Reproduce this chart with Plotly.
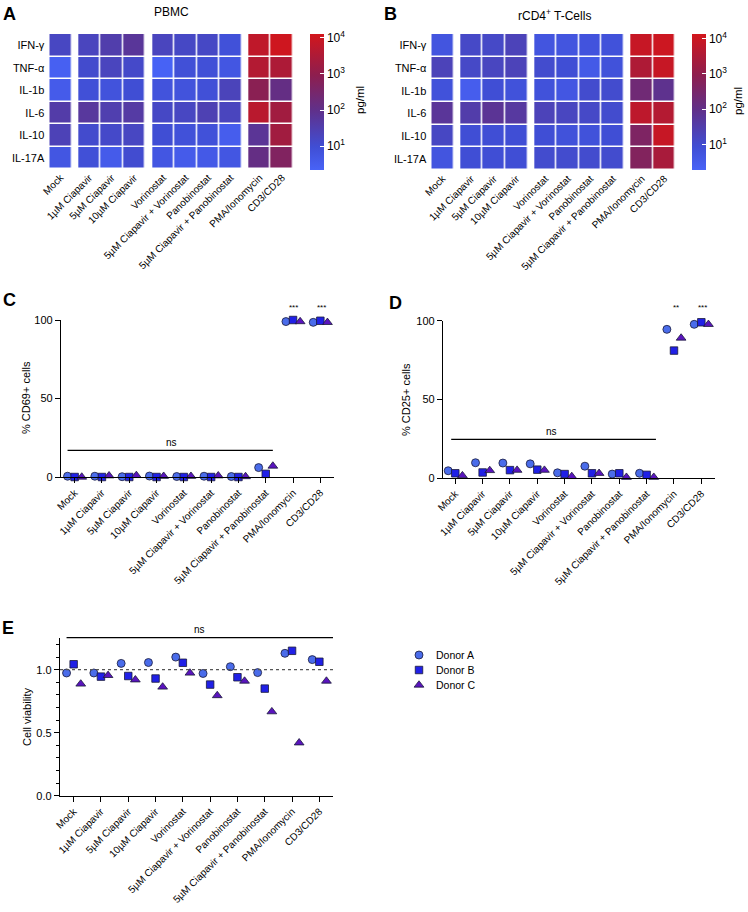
import plotly.graph_objects as go

# ---------------- data ----------------
categories = ["Mock", "1µM Ciapavir", "5µM Ciapavir", "10µM Ciapavir", "Vorinostat",
              "5µM Ciapavir + Vorinostat", "Panobinostat", "5µM Ciapavir + Panobinostat",
              "PMA/Ionomycin", "CD3/CD28"]
cytokines = ["IFN-γ", "TNF-α", "IL-1b", "IL-6", "IL-10", "IL-17A"]

# log10(pg/ml)
pbmc_log = [
    [1.25, 1.3, 1.55, 1.8, 1.3, 1.2, 1.2, 0.9, 3.8, 4.05],
    [0.45, 1.1, 1.3, 1.15, 0.4, 0.95, 0.95, 0.75, 3.6, 3.5],
    [0.6, 0.95, 0.85, 1.0, 0.85, 0.85, 0.95, 1.35, 2.9, 2.1],
    [1.6, 1.75, 1.5, 1.65, 1.2, 1.25, 1.45, 1.3, 3.7, 3.3],
    [1.4, 1.1, 1.15, 1.25, 1.0, 0.9, 0.9, 0.55, 1.85, 3.3],
    [0.75, 0.95, 0.6, 1.05, 0.75, 0.6, 0.65, 0.75, 2.1, 2.7],
]
cd4_log = [
    [0.7, 1.1, 1.1, 1.3, 0.7, 0.7, 0.75, 0.8, 3.9, 4.0],
    [1.3, 1.1, 1.2, 1.3, 1.0, 0.9, 0.55, 0.8, 3.5, 3.9],
    [0.8, 0.45, 0.9, 0.8, 0.8, 0.65, 1.0, 1.0, 2.3, 1.9],
    [1.75, 1.5, 1.8, 1.65, 1.3, 1.2, 1.1, 1.0, 3.75, 3.6],
    [1.15, 0.9, 0.9, 0.9, 0.9, 0.8, 0.8, 0.9, 2.6, 3.9],
    [0.7, 0.9, 0.9, 0.9, 1.0, 1.0, 1.0, 1.0, 2.7, 3.4],
]
cbar_ticks = [1, 2, 3, 4]
cbar_ticktext = ["10<sup>1</sup>", "10<sup>2</sup>", "10<sup>3</sup>", "10<sup>4</sup>"]

donors = ["Donor A", "Donor B", "Donor C"]
cd69 = [
    [0.5, 0.5, 0.2, 0.6, 0.3, 0.5, 0.3, 6.0, 99.0, 98.5],
    [0.0, 0.0, 0.0, 0.0, 0.0, 0.0, 0.0, 2.0, 100.0, 99.5],
    [0.0, 0.8, 1.0, 0.5, 0.5, 0.8, 0.3, 7.0, 99.0, 98.5],
]
cd25 = [
    [4.6, 9.7, 9.5, 9.0, 3.3, 7.5, 2.5, 3.0, 94.5, 97.7],
    [3.0, 3.5, 5.0, 5.3, 2.5, 3.0, 3.0, 2.0, 81.0, 99.0],
    [1.5, 4.8, 5.0, 5.0, 1.0, 3.0, 0.5, 0.5, 89.0, 97.7],
]
viability = [
    [0.974, 0.974, 1.05, 1.057, 1.10, 0.97, 1.024, 0.977, 1.13, 1.08],
    [1.043, 0.945, 0.95, 0.93, 1.055, 0.882, 0.94, 0.85, 1.15, 1.063],
    [0.887, 0.955, 0.92, 0.863, 0.974, 0.795, 0.91, 0.667, 0.42, 0.91],
]
sig_c = ["***", "***"]
sig_d = ["**", "***"]

# ---------------- style ----------------
FONT = "Liberation Sans, Arial, sans-serif"
W, H = 748, 912
donor_symbols = ["circle", "square", "triangle-up"]
donor_colors = ["#4a6cea", "#2020e6", "#5a14be"]
donor_sizes = [8, 7.5, 8.5]
colorscale = [
    [0.0, "rgb(72,99,247)"],
    [0.17, "rgb(64,78,212)"],
    [0.44, "rgb(96,48,138)"],
    [0.70, "rgb(142,30,78)"],
    [1.0, "rgb(210,22,28)"],
]

def px_x(p):
    return p / W

def px_y(p):
    return 1 - p / H

# heatmap column edges with gaps between treatment groups
groups = [1, 3, 4, 2]
gapw = 0.28
edges, centers, zcols = [-0.5], [], []
pos = -0.5
for gi, g in enumerate(groups):
    if gi > 0:
        pos += gapw
        edges.append(pos)
        zcols.append(None)
    for k in range(g):
        centers.append(pos + 0.5)
        pos += 1
        edges.append(pos)
        zcols.append(len(centers) - 1)
xmax_h = pos

def build_z(mat):
    return [[(row[c] if c is not None else None) for c in zcols] for row in mat]

fig = go.Figure()

def add_heat(mat, xa, ya, cax):
    fig.add_trace(go.Heatmap(
        z=build_z(mat), x=edges, y=cytokines, coloraxis=cax,
        xgap=1.5, ygap=1.5, xaxis=xa, yaxis=ya, hoverongaps=False))

add_heat(pbmc_log, "x", "y", "coloraxis")
add_heat(cd4_log, "x2", "y2", "coloraxis2")

def cbar(xleft, ycenter, cmin, cmax):
    return dict(
        colorscale=colorscale, cmin=cmin, cmax=cmax,
        colorbar=dict(
            x=px_x(xleft), xanchor="left", y=px_y(ycenter), yanchor="middle",
            thickness=14, len=136, lenmode="pixels", outlinewidth=0, xpad=0, ypad=0,
            tickvals=cbar_ticks, ticktext=cbar_ticktext,
            ticks="inside", ticklen=4, tickcolor="white",
            tickfont=dict(family=FONT, size=12, color="black"),
        ))

# scatter panels
def add_points(data, xa, ya):
    offs = [-0.26, 0.0, 0.26]
    for d in range(3):
        fig.add_trace(go.Scatter(
            x=[i + offs[d] for i in range(len(categories))], y=data[d],
            mode="markers", name=donors[d], showlegend=False,
            xaxis=xa, yaxis=ya, cliponaxis=False,
            marker=dict(symbol=donor_symbols[d], color=donor_colors[d], size=donor_sizes[d],
                        line=dict(color="#1b1b3a", width=0.8))))

add_points(cd69, "x3", "y3")
add_points(cd25, "x4", "y4")
add_points(viability, "x5", "y5")

# legend keys drawn on a small hidden axis (one row per donor)
for d in range(3):
    fig.add_trace(go.Scatter(
        x=[0], y=[d], mode="markers", name=donors[d], showlegend=False,
        xaxis="x6", yaxis="y6", cliponaxis=False, hoverinfo="skip",
        marker=dict(symbol=donor_symbols[d], color=donor_colors[d], size=donor_sizes[d],
                    line=dict(color="#1b1b3a", width=0.8))))

tickfont = dict(family=FONT, size=10, color="black")

def heat_axes(n, x0, x1, y0, y1):
    sfx = "" if n == 1 else str(n)
    fig.update_layout(**{
        "xaxis" + sfx: dict(domain=[px_x(x0), px_x(x1)], range=[-0.5, xmax_h], tickvals=centers,
                            ticktext=categories, tickangle=-45, showgrid=False, zeroline=False,
                            showline=False, ticks="", tickfont=tickfont, anchor="y" + sfx,
                            automargin=False),
        "yaxis" + sfx: dict(domain=[px_y(y1), px_y(y0)], autorange="reversed", showgrid=False,
                            zeroline=False, ticks="", tickfont=dict(family=FONT, size=11, color="black"),
                            anchor="x" + sfx, ticklabelstandoff=4, automargin=False),
    })

heat_axes(1, 49.3, 293.3, 34, 169)
heat_axes(2, 431.3, 675.7, 34, 170)

def dot_axes(n, x0, x1, y0, y1, yr, ytv, xr, minor=None):
    sfx = str(n)
    ya = dict(domain=[px_y(y1), px_y(y0)], range=yr, tickvals=ytv, showgrid=False, zeroline=False,
              showline=True, linecolor="black", linewidth=1.3, ticks="outside", ticklen=5,
              tickwidth=1.2, tickcolor="black", tickfont=dict(family=FONT, size=11, color="black"),
              anchor="x" + sfx, automargin=False)
    if minor:
        ya["minor"] = minor
    fig.update_layout(**{
        "xaxis" + sfx: dict(domain=[px_x(x0), px_x(x1)], range=xr, tickvals=list(range(len(categories))),
                            ticktext=categories, tickangle=-45, showgrid=False, zeroline=False,
                            showline=True, linecolor="black", linewidth=1.3, ticks="outside",
                            ticklen=5, tickwidth=1.2, tickcolor="black", tickfont=tickfont,
                            anchor="y" + sfx, automargin=False),
        "yaxis" + sfx: ya,
    })

dot_axes(3, 61, 334, 320, 477, [0, 100], [0, 50, 100], [-0.5, 9.5])
dot_axes(4, 443, 715, 320.7, 478, [0, 100], [0, 50, 100], [-0.45, 9.5])
dot_axes(5, 60, 333, 638.2, 795.7, [0, 1.25], [0.0, 0.5, 1.0], [-0.5, 9.5],
         minor=dict(dtick=0.1, ticks="outside", ticklen=3, tickcolor="black", showgrid=False))
fig.update_layout(yaxis5_tickformat=".1f")

hidden = dict(visible=False, showgrid=False, zeroline=False, automargin=False, fixedrange=True)
fig.update_layout(
    xaxis6=dict(domain=[px_x(409), px_x(429)], range=[-1, 1], anchor="y6", **hidden),
    yaxis6=dict(domain=[px_y(700), px_y(640)], range=[3, -1], anchor="x6", **hidden),
)

fig.update_layout(
    coloraxis=cbar(310, 101.5, 0.36, 4.11),
    coloraxis2=cbar(692.3, 102.5, 0.26, 4.11),
)

# shapes: ns lines and dotted reference line
shapes = [
    dict(type="line", xref="x3", yref="y3", x0=-0.26, x1=7.26, y0=17, y1=17, line=dict(color="black", width=1.3)),
    dict(type="line", xref="x4", yref="y4", x0=-0.15, x1=7.34, y0=24.6, y1=24.6, line=dict(color="black", width=1.3)),
    dict(type="line", xref="x5", yref="paper", x0=-0.26, x1=9.5, y0=px_y(637.7), y1=px_y(637.7), line=dict(color="black", width=1.3)),
    dict(type="line", xref="x5", yref="y5", x0=-0.5, x1=9.5, y0=1.0, y1=1.0, line=dict(color="#555555", width=1.3, dash="dot")),
]
fig.update_layout(shapes=shapes)

ann = []
def txt(x, y, t, size=10, bold=False, angle=0, xanchor="center", yanchor="middle"):
    ann.append(dict(x=px_x(x), y=px_y(y), xref="paper", yref="paper", text=("<b>%s</b>" % t) if bold else t,
                    showarrow=False, textangle=angle, xanchor=xanchor, yanchor=yanchor,
                    font=dict(family=FONT, size=size, color="black")))

txt(1, 14, "A", 18, True, xanchor="left")
txt(382, 14, "B", 18, True, xanchor="left")
txt(1, 300, "C", 18, True, xanchor="left")
txt(387, 303, "D", 18, True, xanchor="left")
txt(0, 628, "E", 18, True, xanchor="left")
txt(171, 12, "PBMC", 12)
txt(554, 15, "rCD4<sup>+</sup> T-Cells", 12)
txt(360, 100, "pg/ml", 11.5, angle=-90)
txt(738, 101, "pg/ml", 11.5, angle=-90)
txt(26, 398, "% CD69+ cells", 11, angle=-90)
txt(406, 399, "% CD25+ cells", 11, angle=-90)
txt(27, 717, "Cell viability", 11, angle=-90)
txt(171, 442, "ns", 10)
txt(551, 431, "ns", 10)
txt(199, 629, "ns", 10)
c_x = [293, 321]
d_x = [675.7, 702]
for i, s in enumerate(sig_c):
    txt(c_x[i], 307, s, 8)
for i, s in enumerate(sig_d):
    txt(d_x[i], 307, s, 8)
for d in range(3):
    txt(434, 655 + 15 * d, donors[d], 10.5, xanchor="left")
fig.update_layout(annotations=ann)

fig.update_layout(
    width=W, height=H, margin=dict(l=0, r=0, t=0, b=0, autoexpand=False),
    paper_bgcolor="white", plot_bgcolor="white",
    font=dict(family=FONT, size=10, color="black"),
    showlegend=False,
)

fig.write_html("out.html", config={"displayModeBar": False},
               post_script="document.body.style.margin='0px';")
